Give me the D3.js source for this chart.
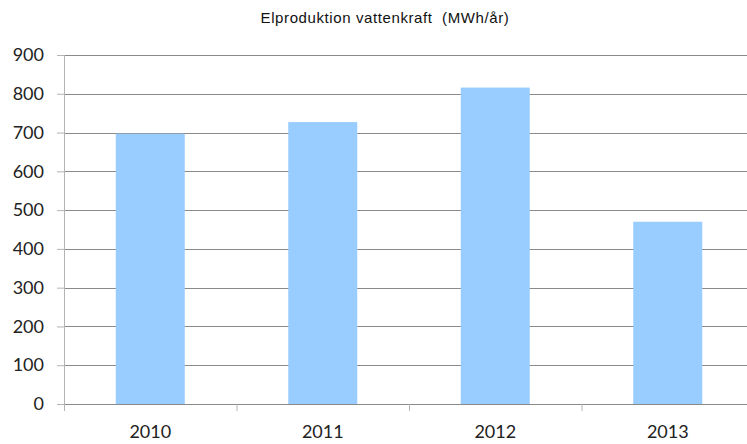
<!DOCTYPE html>
<html>
<head>
<meta charset="utf-8">
<script src="https://cdn.jsdelivr.net/npm/d3@7"></script>
<style>
  body { margin: 0; background: #fff; }
  svg { display: block; }
  .tick text { font-family: Lato, "Open Sans", sans-serif; font-size: 18px; fill: #222; }
</style>
</head>
<body>
<div id="chart"></div>
<script>
const years = ['2010', '2011', '2012', '2013'];
const production = [697, 727, 816, 470];
const yTicks = [0, 100, 200, 300, 400, 500, 600, 700, 800, 900];
const title = 'Elproduktion vattenkraft  (MWh/år)';

const WIDTH = 747;
const HEIGHT = 444;
const MARGIN = {top: 55, left: 64};
const plotWidth = 690;
const plotHeight = 349;

const svg = d3.select('#chart').append('svg')
  .attr('width', WIDTH)
  .attr('height', HEIGHT);

// Title
svg.append('text')
  .attr('x', 385)
  .attr('y', 23)
  .attr('text-anchor', 'middle')
  .style('white-space', 'pre')
  .style('font-family', '"Liberation Sans", Arial, sans-serif')
  .style('font-size', '15px')
  .style('letter-spacing', '0.6px')
  .style('fill', '#111')
  .text(title);

const g = svg.append('g')
  .attr('transform', `translate(${MARGIN.left}, ${MARGIN.top})`);

// Scales
const x = d3.scaleBand()
  .domain(years)
  .range([0, plotWidth])
  .paddingInner(0.6)
  .paddingOuter(0.3);

const xEdge = d3.scaleLinear()
  .domain([0, years.length])
  .range([0, plotWidth]);

const y = d3.scaleLinear()
  .domain([0, 900])
  .range([plotHeight, 0]);

// Gridlines
g.append('g')
  .attr('class', 'grid')
  .selectAll('line')
  .data(yTicks)
  .join('line')
  .attr('x1', 0)
  .attr('x2', plotWidth)
  .attr('y1', d => Math.round(y(d)) + 0.5)
  .attr('y2', d => Math.round(y(d)) + 0.5)
  .attr('stroke', '#8a8a8a');

// Bars
g.append('g')
  .selectAll('rect')
  .data(production)
  .join('rect')
  .attr('x', (d, i) => x(years[i]))
  .attr('y', d => y(d))
  .attr('width', x.bandwidth())
  .attr('height', d => plotHeight - y(d))
  .attr('fill', '#99ccff');

// Y axis
const yAxis = d3.axisLeft(y)
  .tickValues(yTicks)
  .tickSize(7)
  .tickPadding(13);

const yG = g.append('g')
  .attr('class', 'y axis')
  .call(yAxis);
yG.select('.domain').attr('stroke', '#b4b4b4').attr('d', `M0.5,0V${plotHeight}`);
yG.selectAll('.tick line').attr('stroke', '#b4b4b4');

// X axis: tick marks on category edges
const xTickG = g.append('g')
  .attr('transform', `translate(0, ${plotHeight})`)
  .call(d3.axisBottom(xEdge).ticks(years.length).tickSize(7).tickFormat(''));
xTickG.select('.domain').remove();
xTickG.selectAll('.tick line').attr('stroke', '#b4b4b4');

// X axis labels
const xLabelG = g.append('g')
  .attr('transform', `translate(0, ${plotHeight})`)
  .call(d3.axisBottom(x).tickSize(0).tickPadding(21));
xLabelG.select('.domain').remove();
</script>
</body>
</html>
